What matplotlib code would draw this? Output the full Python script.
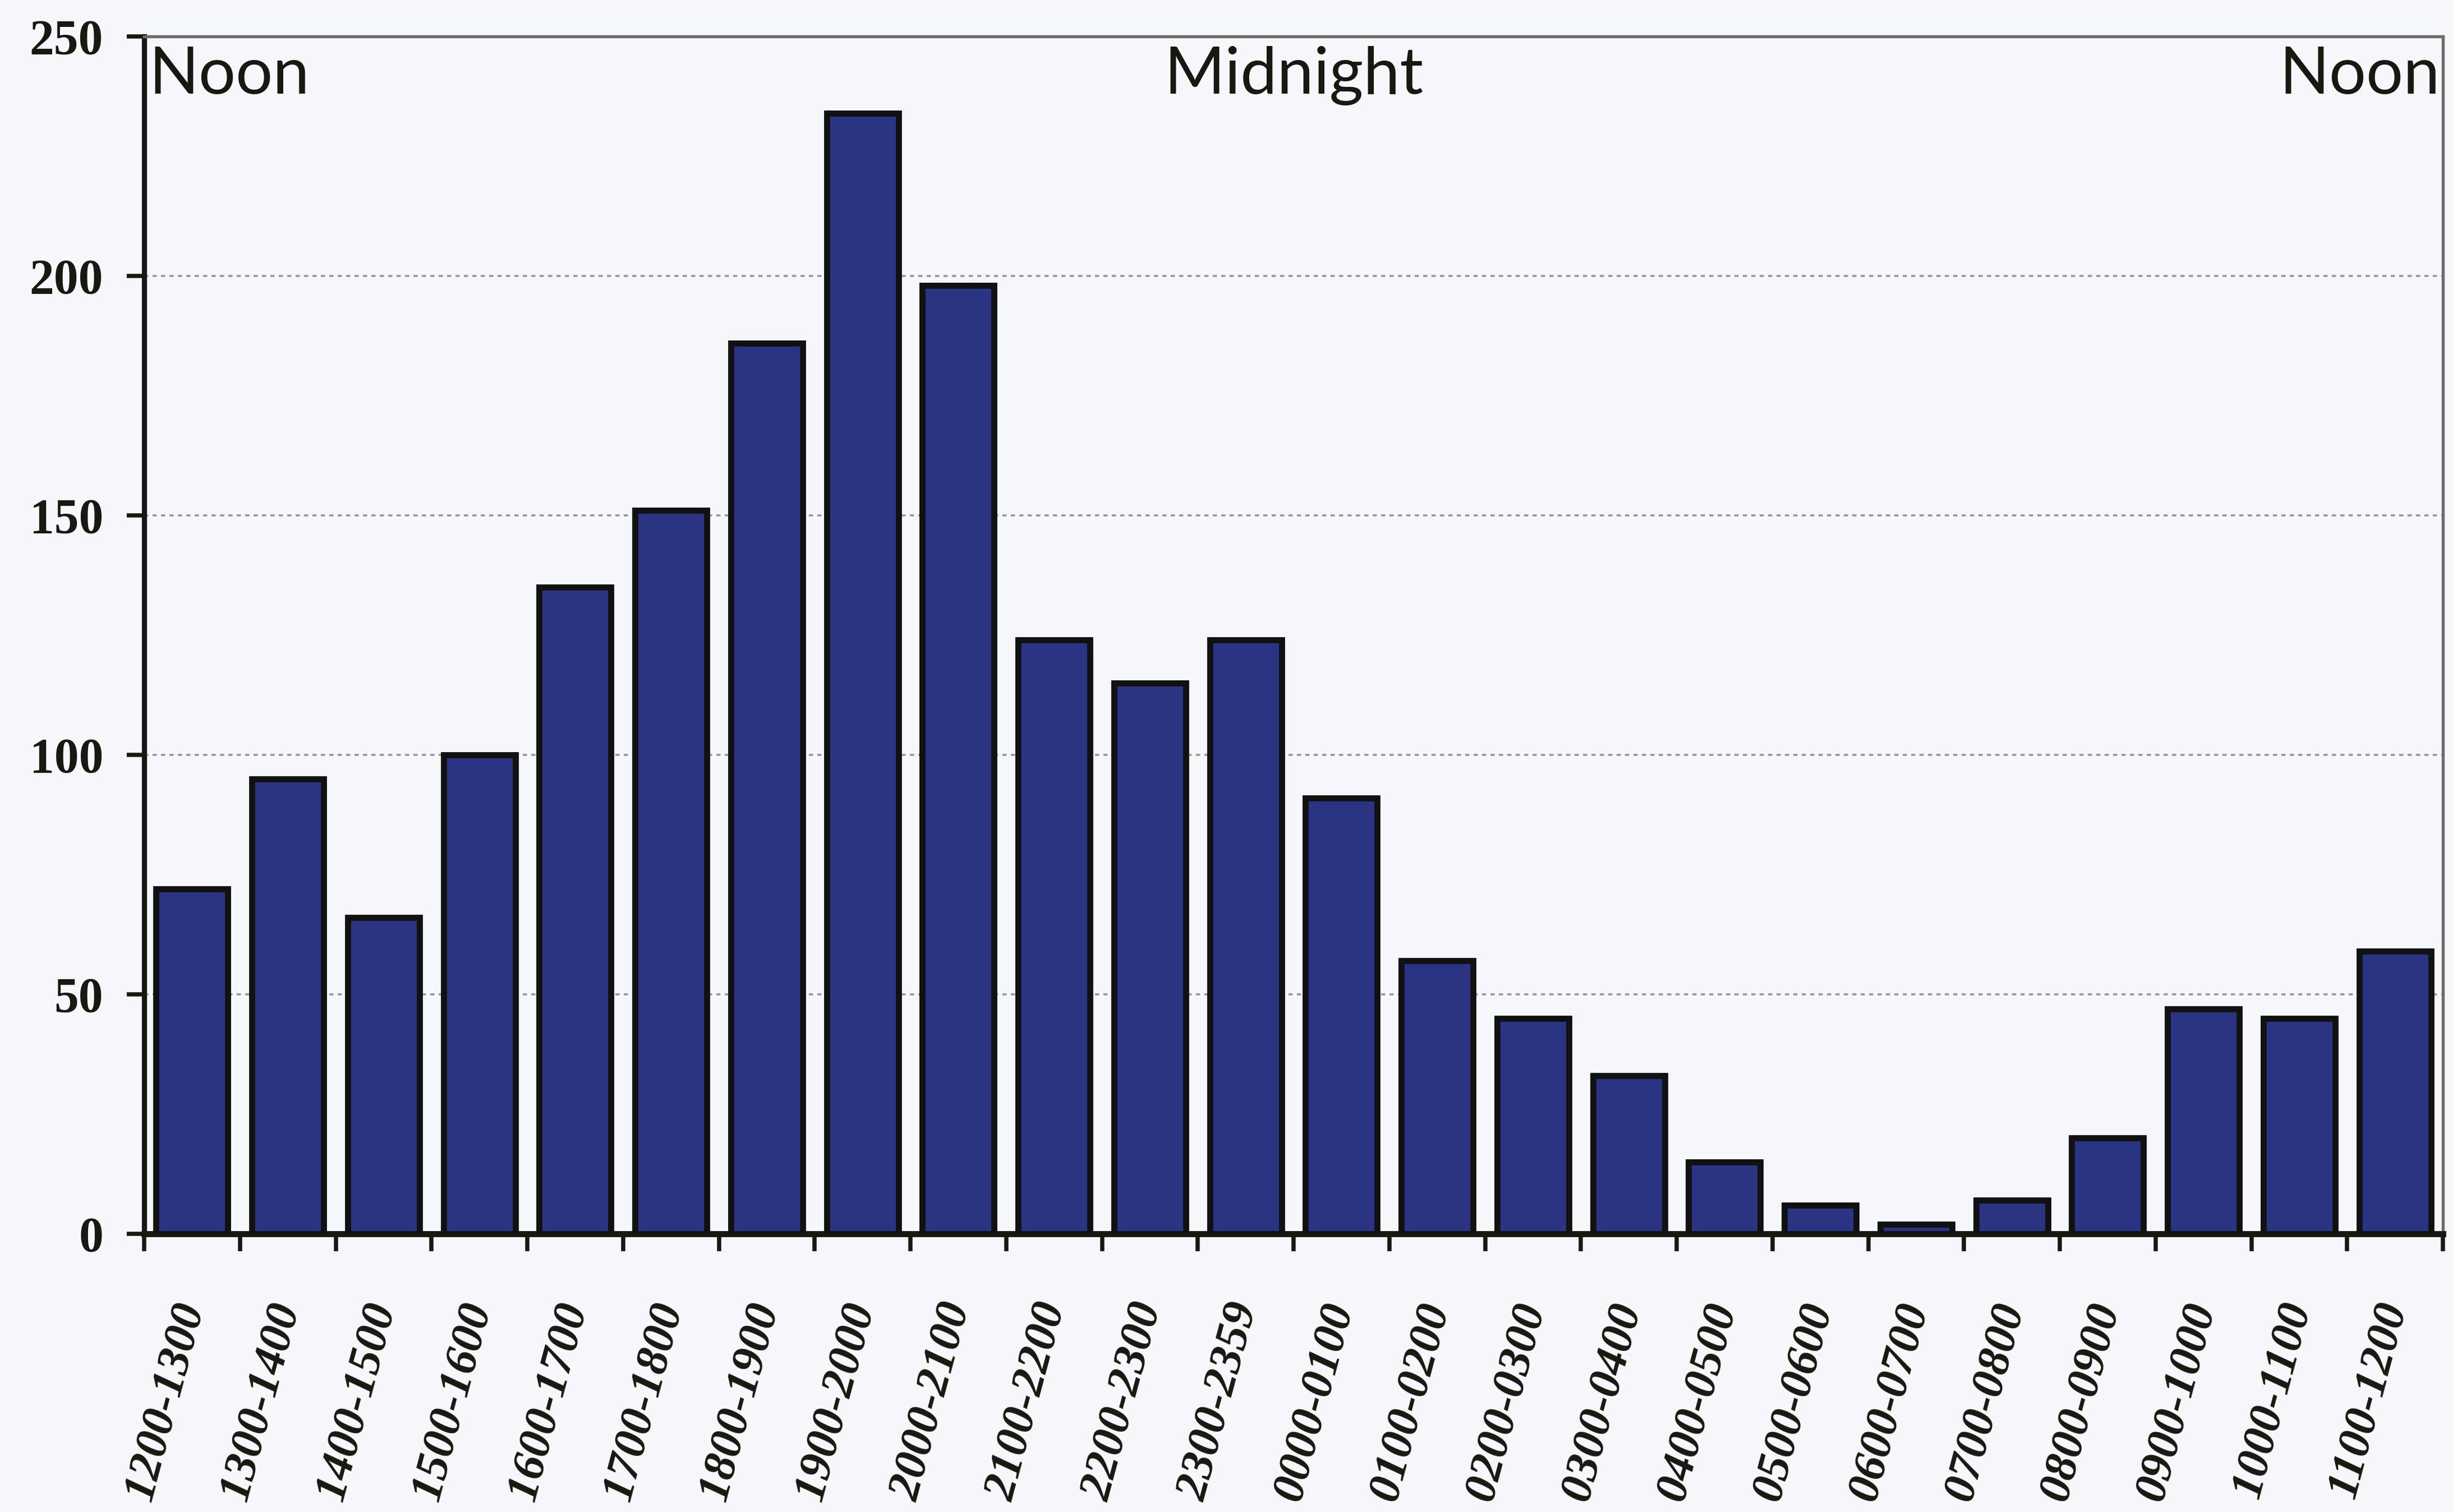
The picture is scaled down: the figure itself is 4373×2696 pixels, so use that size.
import matplotlib
matplotlib.use("Agg")
import matplotlib.pyplot as plt
import numpy as np

# Hourly counts, starting at noon and running through to the next noon
hours = ["1200-1300", "1300-1400", "1400-1500", "1500-1600", "1600-1700",
         "1700-1800", "1800-1900", "1900-2000", "2000-2100", "2100-2200",
         "2200-2300", "2300-2359", "0000-0100", "0100-0200", "0200-0300",
         "0300-0400", "0400-0500", "0500-0600", "0600-0700", "0700-0800",
         "0800-0900", "0900-1000", "1000-1100", "1100-1200"]
counts = [72, 95, 66, 100, 135, 151, 186, 234, 198, 124, 115, 124,
          91, 57, 45, 33, 15, 6, 2, 7, 20, 47, 45, 59]
y_ticks = [0, 50, 100, 150, 200, 250]

bar_color = "#2b3483"
ink = "#16190f"
paper = "#f6f7fb"

W, H, DPI = 4373, 2696, 300
fig = plt.figure(figsize=(W / DPI, H / DPI), dpi=DPI, facecolor=paper)
ax = fig.add_axes([257 / W, 1 - 2200 / H, (4355 - 257) / W, (2200 - 65) / H])
ax.set_facecolor(paper)

x = np.arange(len(hours))
ax.bar(x, counts, width=0.75, color=bar_color, edgecolor="#111111",
       linewidth=2.6, zorder=3)

ax.set_xlim(-0.5, len(hours) - 0.5)
ax.set_ylim(0, 250)

# y axis
ax.set_yticks(y_ticks)
ax.set_yticklabels([str(v) for v in y_ticks], family="Liberation Serif",
                   fontweight="bold", fontsize=21, color=ink)
ax.tick_params(axis="y", direction="out", length=7.5, width=1.8,
               colors=ink, pad=10)
ax.yaxis.grid(True, linestyle=(0, (2, 2)), color="#9a9a9a", linewidth=0.9,
              zorder=0)

# x axis: labels centred on bars, tick marks at slot boundaries
ax.set_xticks(x)
ax.set_xticklabels(hours, family="Liberation Serif", style="italic",
                   fontweight="bold", fontsize=20, color=ink,
                   rotation=75, ha="right", va="center",
                   rotation_mode="anchor")
ax.tick_params(axis="x", which="major", length=0, pad=30)
ax.set_xticks(np.arange(len(hours) + 1) - 0.5, minor=True)
ax.tick_params(axis="x", which="minor", direction="out", length=7.5,
               width=1.8, color=ink)

for side in ("left", "bottom"):
    ax.spines[side].set_color(ink)
    ax.spines[side].set_linewidth(2.2)
ax.spines["bottom"].set_linewidth(2.6)
for side in ("top", "right"):
    ax.spines[side].set_color("#6e6e66")
    ax.spines[side].set_linewidth(1.3)

# time-of-day markers along the top
label_kw = dict(family="Lato", fontsize=28, color=ink, va="baseline",
                transform=ax.get_xaxis_transform())
ax.text(-0.45, 0.952, "Noon", ha="left", **label_kw)
ax.text(11.5, 0.952, "Midnight", ha="center", **label_kw)
ax.text(23.47, 0.952, "Noon", ha="right", **label_kw)

fig.savefig("out.png", dpi=DPI, facecolor=paper)
